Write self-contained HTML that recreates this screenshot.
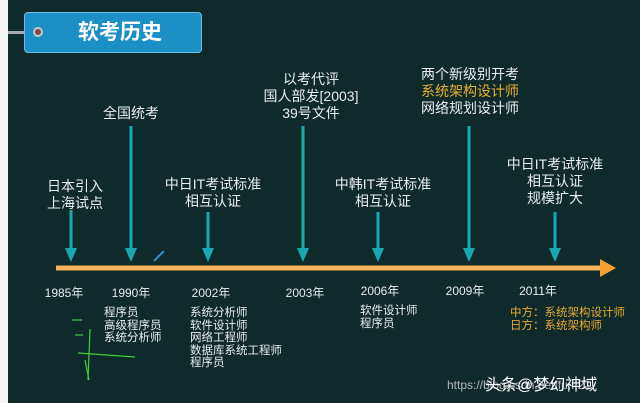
<!DOCTYPE html><html><head><meta charset="utf-8"><style>
body{margin:0;width:640px;height:403px;overflow:hidden;background:#0f2a2b;position:relative;font-family:"Liberation Sans","Noto Sans CJK SC",sans-serif;color:#e8eeee}
.s{position:absolute;left:0;top:0;width:8px;height:403px;background:#f4f4f4}
.t{position:absolute;text-align:center;font-size:14px;line-height:17px;transform:translateX(-50%);white-space:nowrap}
.y{position:absolute;font-size:12px;transform:translateX(-50%);white-space:nowrap}
.l{position:absolute;font-size:11.5px;line-height:12.5px;white-space:nowrap}
</style></head><body>
<div class="s"></div>
<div style="position:absolute;left:8px;top:31px;width:30px;height:3px;background:#a8a8b0"></div>
<div style="position:absolute;left:24px;top:12px;width:178px;height:41px;background:#1b8fc6;border:1px solid #6fc0e8;border-radius:4px;box-sizing:border-box"></div>
<div style="position:absolute;left:33px;top:27px;width:10px;height:10px;border-radius:50%;background:#7a4a48;border:2px solid #c8c8c8;box-sizing:border-box"></div>
<div style="position:absolute;left:60px;top:18px;width:120px;text-align:center;font-size:21px;font-weight:bold;color:#fff;line-height:30px">软考历史</div>
<svg style="position:absolute;left:0;top:0" width="640" height="403">
<line x1="56" y1="268" x2="603" y2="268" stroke="#f7b35a" stroke-width="5"/>
<polygon points="600,259 616,268 600,277" fill="#f5a030"/>
<g fill="#1aa8b0" stroke="#1aa8b0">
<line x1="71" y1="210" x2="71" y2="250" stroke-width="3"/><polygon points="65,248 77,248 71,262" stroke="none"/>
<line x1="131" y1="126" x2="131" y2="250" stroke-width="3"/><polygon points="125,248 137,248 131,262" stroke="none"/>
<line x1="208" y1="212" x2="208" y2="250" stroke-width="3"/><polygon points="202,248 214,248 208,262" stroke="none"/>
<line x1="303" y1="126" x2="303" y2="250" stroke-width="3"/><polygon points="297,248 309,248 303,262" stroke="none"/>
<line x1="378" y1="212" x2="378" y2="250" stroke-width="3"/><polygon points="372,248 384,248 378,262" stroke="none"/>
<line x1="469" y1="126" x2="469" y2="250" stroke-width="3"/><polygon points="463,248 475,248 469,262" stroke="none"/>
<line x1="555" y1="212" x2="555" y2="250" stroke-width="3"/><polygon points="549,248 561,248 555,262" stroke="none"/>
</g>
<line x1="154" y1="261" x2="164" y2="251" stroke="#3a8ad0" stroke-width="2"/>
<g stroke="#3fd040" stroke-width="1.2" fill="none">
<path d="M90 329 L88 380"/><path d="M72 320 L82 320"/><path d="M75 335 L83 335"/><path d="M78 353 L135 357"/><path d="M85 360 L89 380"/>
</g>
</svg>
<div class="t" style="left:75px;top:178px">日本引入<br>上海试点</div>
<div class="t" style="left:131px;top:105px">全国统考</div>
<div class="t" style="left:213px;top:176px">中日IT考试标准<br>相互认证</div>
<div class="t" style="left:311px;top:71px">以考代评<br>国人部发[2003]<br>39号文件</div>
<div class="t" style="left:383px;top:176px">中韩IT考试标准<br>相互认证</div>
<div class="t" style="left:470px;top:66px">两个新级别开考<br><span style="color:#e8b030">系统架构设计师</span><br>网络规划设计师</div>
<div class="t" style="left:555px;top:156px">中日IT考试标准<br>相互认证<br>规模扩大</div>
<div class="y" style="left:64px;top:284px">1985年</div>
<div class="y" style="left:131px;top:284px">1990年</div>
<div class="y" style="left:211px;top:284px">2002年</div>
<div class="y" style="left:305px;top:284px">2003年</div>
<div class="y" style="left:380px;top:282px">2006年</div>
<div class="y" style="left:465px;top:282px">2009年</div>
<div class="y" style="left:538px;top:282px">2011年</div>
<div class="l" style="left:104px;top:307px">程序员<br>高级程序员<br>系统分析师</div>
<div class="l" style="left:190px;top:307px">系统分析师<br>软件设计师<br>网络工程师<br>数据库系统工程师<br>程序员</div>
<div class="l" style="left:360px;top:305px">软件设计师<br>程序员</div>
<div class="l" style="left:510px;top:307px;color:#e8a830">中方：系统架构设计师<br>日方：系统架构师</div>
<div style="position:absolute;left:447px;top:378px;font-size:12px;color:#b0b8b8">https://blog.csdn.net/fu...21</div>
<div style="position:absolute;left:485px;top:371px;font-size:16px;color:#fff">头条@梦幻神域</div>
</body></html>
